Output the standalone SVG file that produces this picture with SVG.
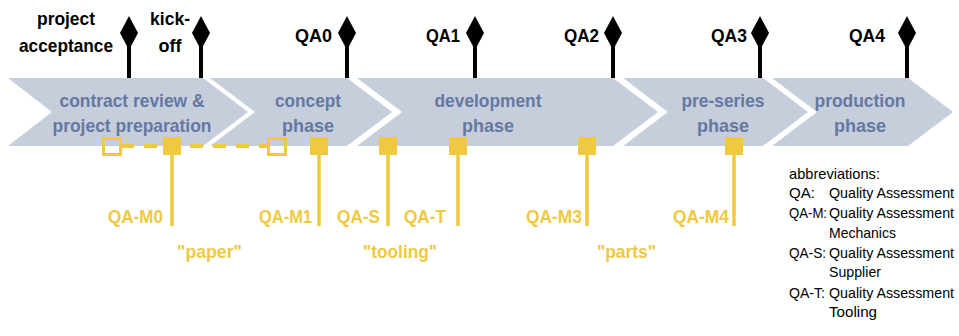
<svg xmlns="http://www.w3.org/2000/svg" width="959" height="336" viewBox="0 0 959 336">
<style>
.chev{fill:#c6cedb}
.ph{font-family:"Liberation Sans",Arial,sans-serif;font-weight:bold;font-size:18.5px;fill:#6478a2;text-anchor:middle}
.ms{font-family:"Liberation Sans",Arial,sans-serif;font-weight:bold;font-size:18.5px;fill:#000}
.yl{font-family:"Liberation Sans",Arial,sans-serif;font-weight:bold;font-size:18.5px;fill:#efc940}
.ab{font-family:"Liberation Sans",Arial,sans-serif;font-size:15px;fill:#000}
.stem{stroke:#000;stroke-width:4}
.ystem{stroke:#efc940;stroke-width:3.5}
.ysq{fill:#efc940}
.ysqh{fill:none;stroke:#efc940;stroke-width:3}
</style>
<defs>
<polygon id="dia" points="0,-17 9,0 0,17 -9,0" fill="#000"/>
</defs>
<g id="phases">
<g id="phase-contract"><polygon class="chev" points="8,78 203,78 248,112 203,146 8,146 52,112"/>
<text class="ph" x="132" y="107" textLength="145" lengthAdjust="spacingAndGlyphs">contract review &amp;</text>
<text class="ph" x="132" y="132" textLength="159" lengthAdjust="spacingAndGlyphs">project preparation</text></g>
<g id="phase-concept"><polygon class="chev" points="210,78 347,78 392,112 347,146 210,146 255,112"/>
<text class="ph" x="308" y="107" textLength="66" lengthAdjust="spacingAndGlyphs">concept</text>
<text class="ph" x="308" y="132" textLength="52" lengthAdjust="spacingAndGlyphs">phase</text></g>
<g id="phase-development"><polygon class="chev" points="357,78 613,78 658,112 613,146 357,146 402,112"/>
<text class="ph" x="488" y="107" textLength="107" lengthAdjust="spacingAndGlyphs">development</text>
<text class="ph" x="488" y="132" textLength="52" lengthAdjust="spacingAndGlyphs">phase</text></g>
<g id="phase-preseries"><polygon class="chev" points="623,78 763,78 808,112 763,146 623,146 668,112"/>
<text class="ph" x="723" y="107" textLength="83" lengthAdjust="spacingAndGlyphs">pre-series</text>
<text class="ph" x="723" y="132" textLength="52" lengthAdjust="spacingAndGlyphs">phase</text></g>
<g id="phase-production"><polygon class="chev" points="772,78 908,78 953,112 908,146 772,146 817,112"/>
<text class="ph" x="860" y="107" textLength="91" lengthAdjust="spacingAndGlyphs">production</text>
<text class="ph" x="860" y="132" textLength="52" lengthAdjust="spacingAndGlyphs">phase</text></g>
</g>
<g id="milestones">
<g id="ms-acceptance"><line class="stem" x1="129" y1="45" x2="129" y2="78"/><use href="#dia" x="129" y="33"/>
<text class="ms" x="66" y="25" text-anchor="middle" textLength="58" lengthAdjust="spacingAndGlyphs">project</text>
<text class="ms" x="66" y="52" text-anchor="middle" textLength="94" lengthAdjust="spacingAndGlyphs">acceptance</text></g>
<g id="ms-kickoff"><line class="stem" x1="201" y1="45" x2="201" y2="78"/><use href="#dia" x="201" y="33"/>
<text class="ms" x="170" y="25" text-anchor="middle" textLength="40" lengthAdjust="spacingAndGlyphs">kick-</text>
<text class="ms" x="170" y="52" text-anchor="middle" textLength="23" lengthAdjust="spacingAndGlyphs">off</text></g>
<g id="ms-qa0"><line class="stem" x1="347" y1="45" x2="347" y2="78"/><use href="#dia" x="347" y="33"/>
<text class="ms" x="295" y="42" textLength="37" lengthAdjust="spacingAndGlyphs">QA0</text></g>
<g id="ms-qa1"><line class="stem" x1="475" y1="45" x2="475" y2="78"/><use href="#dia" x="475" y="33"/>
<text class="ms" x="426" y="42" textLength="34" lengthAdjust="spacingAndGlyphs">QA1</text></g>
<g id="ms-qa2"><line class="stem" x1="613" y1="45" x2="613" y2="78"/><use href="#dia" x="613" y="33"/>
<text class="ms" x="564" y="42" textLength="35" lengthAdjust="spacingAndGlyphs">QA2</text></g>
<g id="ms-qa3"><line class="stem" x1="760" y1="45" x2="760" y2="78"/><use href="#dia" x="760" y="33"/>
<text class="ms" x="711" y="42" textLength="36" lengthAdjust="spacingAndGlyphs">QA3</text></g>
<g id="ms-qa4"><line class="stem" x1="907" y1="45" x2="907" y2="78"/><use href="#dia" x="907" y="33"/>
<text class="ms" x="849" y="42" textLength="36" lengthAdjust="spacingAndGlyphs">QA4</text></g>
</g>
<g id="connectors">
<line x1="121" y1="146" x2="267" y2="146" stroke="#efc940" stroke-width="4" stroke-dasharray="13,10"/>
<line class="ystem" x1="172" y1="147" x2="172" y2="226"/>
<line class="ystem" x1="319" y1="147" x2="319" y2="226"/>
<line class="ystem" x1="388" y1="147" x2="388" y2="226"/>
<line class="ystem" x1="458" y1="147" x2="458" y2="226"/>
<line class="ystem" x1="587" y1="147" x2="587" y2="226"/>
<line class="ystem" x1="734" y1="147" x2="734" y2="226"/>
</g>
<g id="quality-gates">
<g id="qg-start"><rect class="ysqh" x="103.5" y="138.5" width="17" height="16"/></g>
<g id="qg-end"><rect class="ysqh" x="268.5" y="138.5" width="17" height="16"/></g>
<g id="qa-m0"><rect class="ysq" x="163" y="137" width="18" height="18"/><text class="yl" x="108" y="223" textLength="55" lengthAdjust="spacingAndGlyphs">QA-M0</text></g>
<g id="qa-m1"><rect class="ysq" x="310" y="137" width="18" height="18"/><text class="yl" x="259" y="223" textLength="53" lengthAdjust="spacingAndGlyphs">QA-M1</text></g>
<g id="qa-s"><rect class="ysq" x="379" y="137" width="18" height="18"/><text class="yl" x="337" y="223" textLength="43" lengthAdjust="spacingAndGlyphs">QA-S</text></g>
<g id="qa-t"><rect class="ysq" x="449" y="137" width="18" height="18"/><text class="yl" x="404" y="223" textLength="42" lengthAdjust="spacingAndGlyphs">QA-T</text></g>
<g id="qa-m3"><rect class="ysq" x="578" y="137" width="18" height="18"/><text class="yl" x="526" y="223" textLength="56" lengthAdjust="spacingAndGlyphs">QA-M3</text></g>
<g id="qa-m4"><rect class="ysq" x="725" y="137" width="18" height="18"/><text class="yl" x="673" y="223" textLength="56" lengthAdjust="spacingAndGlyphs">QA-M4</text></g>
<text class="yl" x="177" y="258" textLength="65" lengthAdjust="spacingAndGlyphs">"paper"</text>
<text class="yl" x="363" y="258" textLength="74" lengthAdjust="spacingAndGlyphs">"tooling"</text>
<text class="yl" x="597" y="258" textLength="59" lengthAdjust="spacingAndGlyphs">"parts"</text>
</g>
<g id="abbreviations" class="ab">
<text x="789" y="179" textLength="91" lengthAdjust="spacingAndGlyphs">abbreviations:</text>
<text x="789" y="198" textLength="26" lengthAdjust="spacingAndGlyphs">QA:</text>
<text x="829" y="198" textLength="125" lengthAdjust="spacingAndGlyphs">Quality Assessment</text>
<text x="789" y="218" textLength="38" lengthAdjust="spacingAndGlyphs">QA-M:</text>
<text x="829" y="218" textLength="125" lengthAdjust="spacingAndGlyphs">Quality Assessment</text>
<text x="829" y="238" textLength="67" lengthAdjust="spacingAndGlyphs">Mechanics</text>
<text x="789" y="258" textLength="37" lengthAdjust="spacingAndGlyphs">QA-S:</text>
<text x="829" y="258" textLength="125" lengthAdjust="spacingAndGlyphs">Quality Assessment</text>
<text x="829" y="277" textLength="52" lengthAdjust="spacingAndGlyphs">Supplier</text>
<text x="789" y="298" textLength="36" lengthAdjust="spacingAndGlyphs">QA-T:</text>
<text x="829" y="298" textLength="125" lengthAdjust="spacingAndGlyphs">Quality Assessment</text>
<text x="829" y="317" textLength="48" lengthAdjust="spacingAndGlyphs">Tooling</text>
</g>
</svg>
